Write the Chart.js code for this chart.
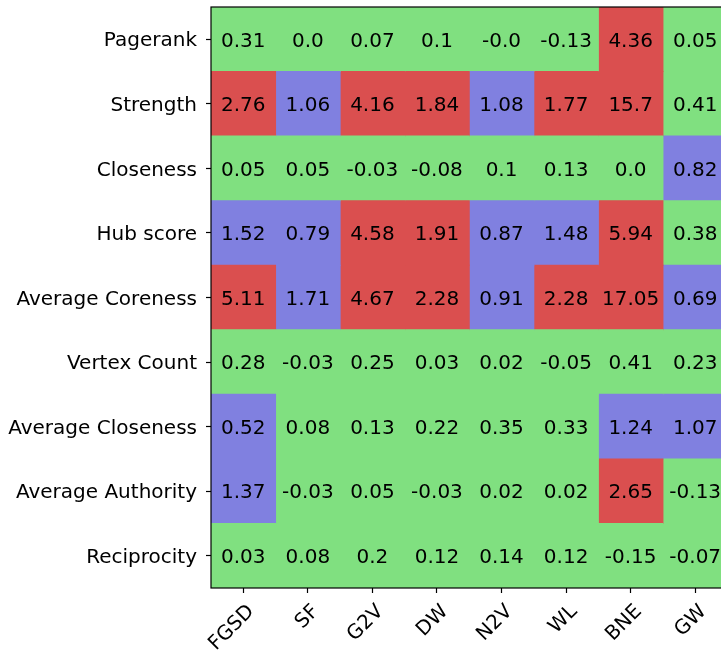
<!DOCTYPE html>
<html>
<head>
<meta charset="utf-8">
<script src="https://cdn.jsdelivr.net/npm/chart.js@4.4.1/dist/chart.umd.min.js"></script>
<style>
html, body { margin: 0; padding: 0; background: #fff; overflow: hidden; }
</style>
</head>
<body>
<canvas id="heatmap" width="740" height="652"></canvas>
<script>
const methods = ['FGSD', 'SF', 'G2V', 'DW', 'N2V', 'WL', 'BNE', 'GW'];
const features = ['Pagerank', 'Strength', 'Closeness', 'Hub score', 'Average Coreness',
    'Vertex Count', 'Average Closeness', 'Average Authority', 'Reciprocity'];

// one row per feature, columns follow `methods`
const pagerank = [0.31, 0.0, 0.07, 0.1, -0.0, -0.13, 4.36, 0.05];
const strength = [2.76, 1.06, 4.16, 1.84, 1.08, 1.77, 15.7, 0.41];
const closeness = [0.05, 0.05, -0.03, -0.08, 0.1, 0.13, 0.0, 0.82];
const hubScore = [1.52, 0.79, 4.58, 1.91, 0.87, 1.48, 5.94, 0.38];
const avgCoreness = [5.11, 1.71, 4.67, 2.28, 0.91, 2.28, 17.05, 0.69];
const vertexCount = [0.28, -0.03, 0.25, 0.03, 0.02, -0.05, 0.41, 0.23];
const avgCloseness = [0.52, 0.08, 0.13, 0.22, 0.35, 0.33, 1.24, 1.07];
const avgAuthority = [1.37, -0.03, 0.05, -0.03, 0.02, 0.02, 2.65, -0.13];
const reciprocity = [0.03, 0.08, 0.2, 0.12, 0.14, 0.12, -0.15, -0.07];

const values = [pagerank, strength, closeness, hubScore, avgCoreness,
    vertexCount, avgCloseness, avgAuthority, reciprocity];

// cell class: 0 = green, 1 = blue, 2 = red
const classes = [
    [0, 0, 0, 0, 0, 0, 2, 0],
    [2, 1, 2, 2, 1, 2, 2, 0],
    [0, 0, 0, 0, 0, 0, 0, 1],
    [1, 1, 2, 2, 1, 1, 2, 0],
    [2, 1, 2, 2, 1, 2, 2, 1],
    [0, 0, 0, 0, 0, 0, 0, 0],
    [1, 0, 0, 0, 0, 0, 1, 1],
    [1, 0, 0, 0, 0, 0, 2, 0],
    [0, 0, 0, 0, 0, 0, 0, 0]
];
const palette = ['#80e080', '#8080e0', '#da4f4f'];

Chart.defaults.font.family = '"DejaVu Sans", sans-serif';
Chart.defaults.color = '#000';

function fmt(v) {
    if (Number.isInteger(v)) return (Object.is(v, -0) ? '-' : '') + Math.abs(v).toFixed(1);
    return String(v);
}

// write each cell's value in the middle of its bar (digits centred on the row)
const cellText = {
    id: 'cellText',
    afterDatasetsDraw(chart) {
        const ctx = chart.ctx;
        ctx.save();
        ctx.font = '20px "DejaVu Sans"';
        ctx.fillStyle = '#000';
        ctx.textAlign = 'center';
        ctx.textBaseline = 'alphabetic';
        chart.data.datasets.forEach((ds, c) => {
            chart.getDatasetMeta(c).data.forEach((bar, r) => {
                const p = bar.getProps(['x', 'y', 'base'], true);
                ctx.fillText(fmt(values[r][c]), (p.x + p.base) / 2, p.y + 7.3);
            });
        });
        ctx.restore();
    }
};

// box around the plot area
const frame = {
    id: 'frame',
    afterDraw(chart) {
        const a = chart.chartArea;
        const ctx = chart.ctx;
        ctx.save();
        ctx.strokeStyle = '#000';
        ctx.lineWidth = 1.2;
        ctx.strokeRect(a.left, a.top, a.right - a.left, a.bottom - a.top);
        ctx.restore();
    }
};

const ctx = document.getElementById('heatmap');
new Chart(ctx, {
    type: 'bar',
    data: {
        labels: features,
        datasets: methods.map((m, c) => ({
            label: m,
            data: features.map(() => [c, c + 1]),
            backgroundColor: features.map((f, r) => palette[classes[r][c]]),
            borderWidth: 0,
            inflateAmount: 0.5
        }))
    },
    options: {
        indexAxis: 'y',
        responsive: false,
        animation: false,
        events: [],
        layout: { padding: { top: 7, right: 12.5, left: 0, bottom: 0 } },
        plugins: {
            legend: { display: false },
            tooltip: { enabled: false }
        },
        datasets: {
            bar: { grouped: false, barPercentage: 1, categoryPercentage: 1 }
        },
        scales: {
            y: {
                type: 'category',
                offset: true,
                grid: { offset: false, drawOnChartArea: false, tickLength: 5, tickColor: '#000', tickWidth: 1.2 },
                border: { display: false },
                ticks: { color: '#000', font: { size: 20 }, padding: 9, labelOffset: 2 },
                afterFit(s) {
                    s.width = 211;
                    s.paddingTop = 0;
                    s.paddingBottom = 0;
                }
            },
            x: {
                type: 'linear',
                min: 0,
                max: 8,
                afterBuildTicks(s) { s.ticks = methods.map((m, i) => ({ value: i + 0.5 })); },
                grid: { drawOnChartArea: false, tickLength: 5, tickColor: '#000', tickWidth: 1.2 },
                border: { display: false },
                ticks: {
                    color: '#000',
                    font: { size: 20 },
                    autoSkip: false,
                    minRotation: 45,
                    maxRotation: 45,
                    padding: 7,
                    labelOffset: 8,
                    callback: (v, i) => methods[i]
                },
                afterFit(s) {
                    s.height = 64;
                    s.paddingLeft = 0;
                    s.paddingRight = 0;
                }
            }
        }
    },
    plugins: [cellText, frame]
});
</script>
</body>
</html>
